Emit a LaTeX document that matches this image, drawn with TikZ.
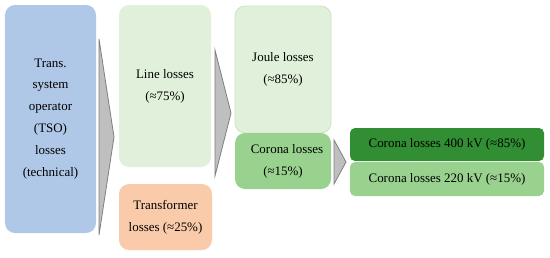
\documentclass[tikz,border=0pt]{standalone}
\usepackage{fontspec}
\setmainfont{Liberation Serif}
\definecolor{tsoblue}{HTML}{B0C8E8}
\definecolor{lgreen}{HTML}{E0F0DA}
\definecolor{lgreenedge}{HTML}{C8E6BE}
\definecolor{orng}{HTML}{F9CBAA}
\definecolor{mgreen}{HTML}{99D28E}
\definecolor{dgreen}{HTML}{318E33}
\definecolor{chev}{HTML}{BFBFBF}
\definecolor{chevedge}{HTML}{7F7F7F}
\begin{document}
\begin{tikzpicture}[x=1bp,y=-1bp,
  box/.style={rounded corners=10bp, inner sep=0pt, align=center,
    font=\fontsize{13}{22}\selectfont, text=black},
  sbox/.style={rounded corners=5bp, inner sep=0pt, align=center,
    font=\fontsize{13}{22}\selectfont, text=black},
  chevron/.style={fill=chev, draw=chevedge, line width=0.8bp, line join=miter}
]
\useasboundingbox (0,0) rectangle (550,257);
% boxes
\node[box, fill=tsoblue, minimum width=91bp, minimum height=228bp] (tso) at (50.5,119)
  {Trans.\\ system\\ operator\\ (TSO)\\ losses\\ (technical)};
\node[box, fill=lgreen, minimum width=92bp, minimum height=162bp] (line) at (165,86)
  {Line losses\\ (≈75\%)};
\node[box, fill=orng, minimum width=93bp, minimum height=66bp] (trans) at (165.5,217)
  {Transformer\\ losses (≈25\%)};
\node[box, fill=lgreen, draw=lgreenedge, line width=0.8bp, minimum width=96bp, minimum height=127bp] (joule) at (283,69.5)
  {Joule losses\\ (≈85\%)};
\node[box, fill=mgreen, minimum width=96bp, minimum height=56bp] (corona) at (283,161)
  {\hspace*{8bp}Corona losses\\ (≈15\%)};
\node[sbox, fill=dgreen, minimum width=194bp, minimum height=33bp] (c400) at (447,144.5)
  {Corona losses 400 kV (≈85\%)};
\node[sbox, fill=mgreen, minimum width=194bp, minimum height=34bp] (c220) at (447,179)
  {Corona losses 220 kV (≈15\%)};
% chevrons
\coordinate (a1) at (99,39);
\coordinate (a2) at (114,137);
\coordinate (a3) at (99,235);
\draw[chevron] (a1) -- (a2) -- (a3) -- cycle;
\coordinate (b1) at (215,50);
\coordinate (b2) at (231,113);
\coordinate (b3) at (215,176);
\draw[chevron] (b1) -- (b2) -- (b3) -- cycle;
\coordinate (c1) at (334,140);
\coordinate (c2) at (346,162);
\coordinate (c3) at (334,184);
\draw[chevron] (c1) -- (c2) -- (c3) -- cycle;
\end{tikzpicture}
\end{document}
